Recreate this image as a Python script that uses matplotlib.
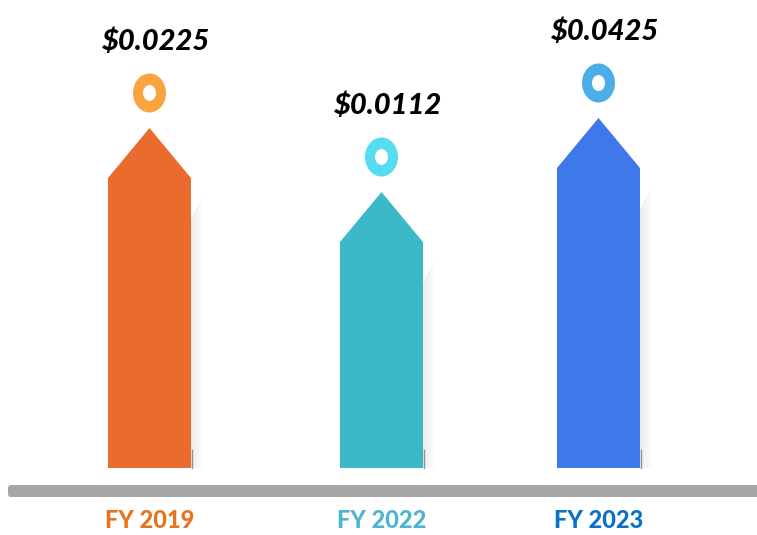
import matplotlib

matplotlib.use('Agg')

import matplotlib.pyplot as plt
from matplotlib.patches import Polygon, Ellipse, FancyBboxPatch

# data
categories = ['FY 2019', 'FY 2022', 'FY 2023']
values = [0.0225, 0.0112, 0.0425]
# drawn bar heights (tip of arrow), in pixel-like units
bar_heights = [340, 276, 350]

bar_colors = ['#E96B2E', '#3BB9C6', '#3F78E8']
ring_colors = ['#F9A43E', '#56DCF0', '#4BAEE8']
label_colors = ['#E8731E', '#4DB6CF', '#0A70C8']

# layout
x_centers = [149.5, 381.5, 598.5]
bar_w = 83
tip = 50

plt.rcParams['font.family'] = ['Lato', 'DejaVu Sans']

fig = plt.figure(figsize=(7.57, 5.35), dpi=100)
ax = fig.add_axes([0, 0, 1, 1])
ax.set_xlim(0, 757)
ax.set_ylim(-67, 468)
ax.axis('off')

for xc, h, val, cat, bc, rc, lc in zip(x_centers, bar_heights, values, categories,
                                         bar_colors, ring_colors, label_colors):
    left = xc - bar_w / 2
    right = xc + bar_w / 2
    shoulder = h - tip

    # soft shadow on the right
    for i in range(12):
        ax.add_patch(Polygon([(right + i, 0), (right + i + 1, 0),
                              (right + i + 1, shoulder - 40 + i * 2), (right + i, shoulder - 40 + i * 2)],
                             closed=True, facecolor='#808080', edgecolor='none',
                             alpha=0.15 * (1 - i / 12.0), zorder=1))
    ax.plot([right + 1, right + 1], [0, 18], color='#555555', lw=1.0, alpha=0.6, zorder=1)

    # arrow-shaped bar
    ax.add_patch(Polygon([(left, 0), (right, 0), (right, shoulder), (xc, h), (left, shoulder)],
                         closed=True, facecolor=bc, edgecolor='none', zorder=2))

    # ring marker
    ry = h + 35
    ax.add_patch(Ellipse((xc, ry), 33, 39, facecolor=rc, edgecolor='none', zorder=3))
    ax.add_patch(Ellipse((xc, ry), 13, 16, facecolor='white', edgecolor='none', zorder=4))

    # value label
    ax.text(xc + 7, ry + 51, '$%.4f' % val, ha='center', va='center',
            fontsize=21, fontweight='black', fontstyle='italic', color='black', zorder=5)

    # category label
    ax.text(xc, -53, cat, ha='center', va='center', fontsize=17,
            fontweight='black', color=lc, zorder=5)

# grey baseline
ax.add_patch(FancyBboxPatch((8, -29), 760, 12, boxstyle='round,pad=0,rounding_size=3',
                            facecolor='#A6A6A6', edgecolor='none', zorder=2))

fig.savefig('out.png', dpi=100)
